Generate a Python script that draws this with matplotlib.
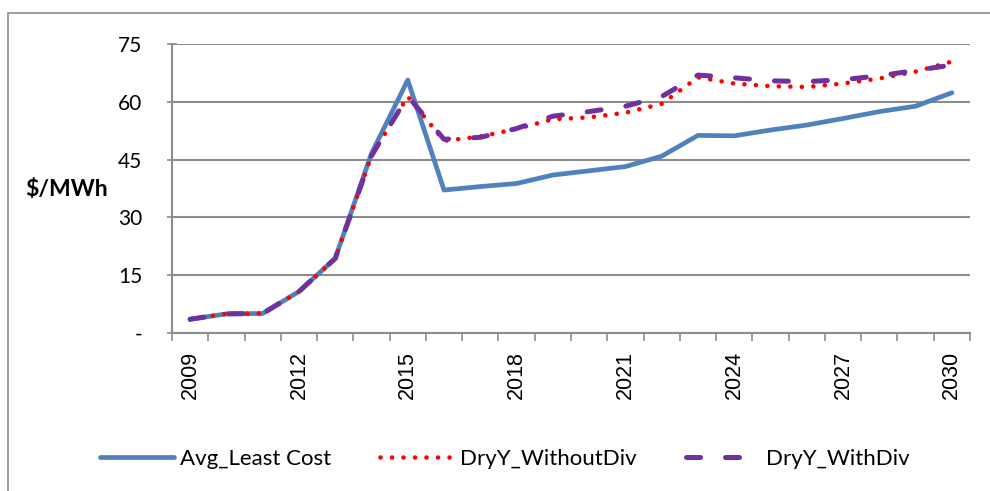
import numpy as np
import matplotlib
matplotlib.use("Agg")
import matplotlib.pyplot as plt
from matplotlib.patches import Rectangle

# values ($/MWh)
years = list(range(2009, 2031))
avg_least_cost = [3.5, 4.9, 5.0, 10.7, 19.3, 46.6, 65.7, 37.1, 38.0, 38.8, 41.0,
                  42.1, 43.2, 45.9, 51.3, 51.2, 52.7, 54.0, 55.7, 57.5, 58.9, 62.4]
dry_without_div = [3.5, 4.9, 5.0, 10.7, 19.3, 46.0, 61.4, 49.9, 51.0, 53.0, 55.5,
                   56.0, 57.2, 59.5, 66.4, 64.8, 64.1, 63.9, 64.8, 66.1, 67.9, 70.5]
dry_with_div = [3.5, 4.9, 5.0, 10.7, 19.3, 46.0, 61.5, 50.3, 50.8, 53.1, 56.3,
                57.5, 58.9, 61.4, 67.0, 66.3, 65.5, 65.3, 65.8, 66.8, 68.2, 69.6]
y_ticks = [0, 15, 30, 45, 60, 75]
y_tick_labels = ['-', '15', '30', '45', '60', '75']

grid_col = '#8c8c8c'

fig = plt.figure(figsize=(9.9, 4.91), dpi=100)
ax = fig.add_axes([0.1737, 0.3224, 0.9798 - 0.1737, 0.9098 - 0.3224])

ax.plot(years, avg_least_cost, color='#4F81BD', lw=3.4, solid_capstyle='round',
        solid_joinstyle='round', label='Avg_Least Cost', zorder=3)
ax.plot(years, dry_without_div, color='#FF0000', lw=3.3, linestyle=(0, (0.01, 2.5)),
        dash_capstyle='round', label='DryY_WithoutDiv', zorder=4)
ax.plot(years, dry_with_div, color='#7030A0', lw=3.6, linestyle=(0, (2.8, 5.0)),
        dash_capstyle='round', label='DryY_WithDiv', zorder=5)

ax.set_xlim(2008.5, 2030.5)
ax.set_ylim(0, 75)

# y axis
ax.set_yticks(y_ticks)
ax.set_yticklabels(y_tick_labels, family='Lato', fontsize=15)
ax.tick_params(axis='y', direction='inout', length=7, width=1.2, color=grid_col, pad=18)
ax.yaxis.grid(True, color=grid_col, lw=1.5)
ax.set_axisbelow(True)

# x axis: ticks between categories, labels every 3 years
ax.set_xticks(years[::3])
ax.set_xticklabels([str(y) for y in years[::3]], rotation=90, family='Liberation Sans',
                   fontsize=15.5)
ax.tick_params(axis='x', length=0, pad=13)
ax.set_xticks(np.arange(2008.5, 2031, 1.0), minor=True)
ax.tick_params(axis='x', which='minor', direction='out', length=5.5, width=1.2, color=grid_col)

for s in ['top', 'right']:
    ax.spines[s].set_visible(False)
for s in ['left', 'bottom']:
    ax.spines[s].set_color(grid_col)
    ax.spines[s].set_linewidth(1.5)

fig.text(67 / 990, 1 - 190 / 491, '$/MWh', family='Lato', fontweight='bold',
         fontsize=16.5, ha='center', va='center')

fig.legend(loc='center', bbox_to_anchor=(0.51, 1 - 459 / 491), ncol=3, frameon=False,
           prop={'family': 'Lato', 'size': 16}, handlelength=3.3, handletextpad=0.3,
           columnspacing=2.2)

# outer chart border
fig.patches.append(Rectangle((8 / 990, -0.1), 1.2, 1 - 13 / 491 + 0.1, transform=fig.transFigure,
                             fill=False, edgecolor='#8c8c8c', lw=1.2))

fig.savefig('out.png', dpi=100)
